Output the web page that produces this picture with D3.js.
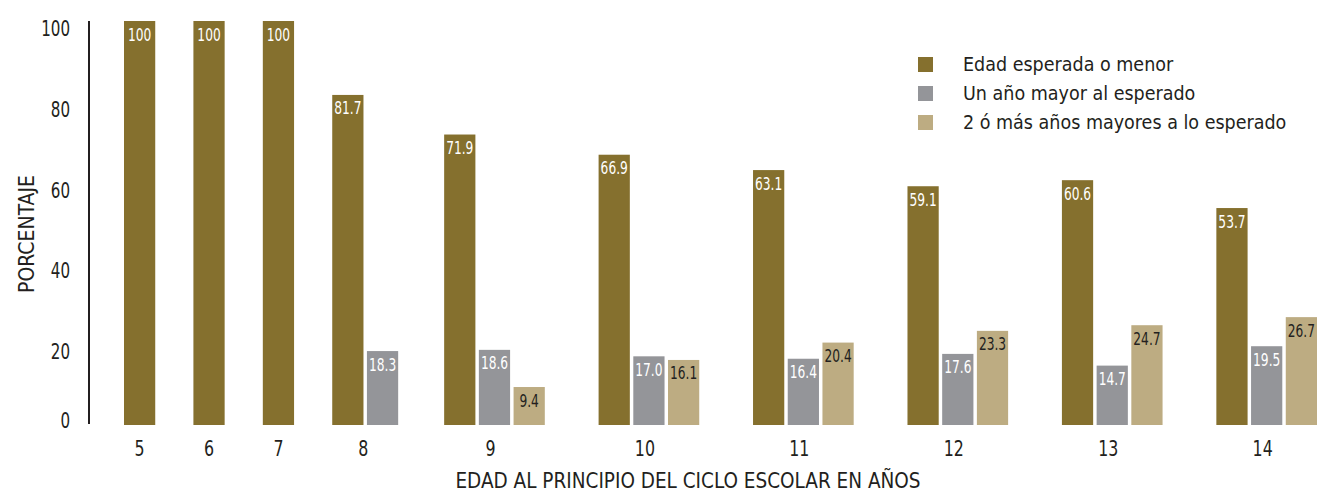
<!DOCTYPE html>
<html>
<head>
<meta charset="utf-8">
<script src="https://cdn.jsdelivr.net/npm/d3@7"></script>
<style>
  html, body { margin: 0; padding: 0; background: #fff; }
  svg { display: block; }
  text { font-family: "Liberation Sans Narrow", "DejaVu Sans Condensed", "Liberation Sans", sans-serif; }
</style>
</head>
<body>
<svg id="chart" width="1321" height="497"></svg>
<script>
const categories = ["5", "6", "7", "8", "9", "10", "11", "12", "13", "14"];
const seriesNames = ["Edad esperada o menor", "Un año mayor al esperado", "2 ó más años mayores a lo esperado"];
const esperada = [100, 100, 100, 81.7, 71.9, 66.9, 63.1, 59.1, 60.6, 53.7];
const unAnio   = [null, null, null, 18.3, 18.6, 17.0, 16.4, 17.6, 14.7, 19.5];
const dosOMas  = [null, null, null, null, 9.4, 16.1, 20.4, 23.3, 24.7, 26.7];
const yTicks = [0, 20, 40, 60, 80, 100];
const yTitle = "PORCENTAJE";
const xTitle = "EDAD AL PRINCIPIO DEL CICLO ESCOLAR EN AÑOS";

const colors = ["#85702e", "#949599", "#bdac82"];
const labelColors = ["#ffffff", "#ffffff", "#231f20"];
const series = [esperada, unAnio, dosOMas];
const narrow = 0.8; // horizontal condensing for numerals

const svg = d3.select("#chart");

// Group layout in "slot units": each group takes its bars + a gap
const barW = 0.9;
let cursor = 0;
const groups = categories.map((c, i) => {
  const vals = series.map((s, k) => ({ k, v: s[i] })).filter(d => d.v != null);
  const n = vals.length;
  const g = { cat: c, start: cursor, n, bars: vals.map((d, j) => ({ cat: c, k: d.k, v: d.v, u: cursor + j })) };
  cursor += n + 1 + 0.225 * (n - 1);
  return g;
});
const last = groups[groups.length - 1];
const endUnits = last.start + last.n - 1 + barW;

const x = d3.scaleLinear().domain([0, endUnits]).range([124, 1317]);
const y = d3.scaleLinear().domain([0, 100]).range([425, 21]);

// Y axis line
svg.append("line")
  .attr("x1", 89).attr("x2", 89)
  .attr("y1", y(100)).attr("y2", y(0) - 1)
  .attr("stroke", "#231f20").attr("stroke-width", 2);

// Y tick labels (axis generator, then condensed)
const yAxis = svg.append("g").attr("transform", "translate(70,0)")
  .call(d3.axisLeft(y).tickValues(yTicks).tickSize(0).tickPadding(0));
yAxis.select(".domain").remove();
yAxis.selectAll(".tick text")
  .attr("x", 0)
  .attr("dy", null)
  .attr("y", d => d === 0 ? 2 : 14.5)
  .attr("transform", `scale(${narrow},1)`)
  .attr("font-size", 21)
  .attr("fill", "#231f20")
  .style("font-family", '"Liberation Sans Narrow", "DejaVu Sans Condensed", sans-serif');

// Bars
const allBars = groups.flatMap(g => g.bars);
svg.append("g").selectAll("rect").data(allBars).join("rect")
  .attr("x", d => x(d.u))
  .attr("width", d => x(d.u + barW) - x(d.u))
  .attr("y", d => y(d.v))
  .attr("height", d => y(0) - y(d.v))
  .attr("fill", d => colors[d.k]);

// Value labels
const fmt = v => v === 100 ? "100" : d3.format(".1f")(v);
svg.append("g").selectAll("text").data(allBars).join("text")
  .attr("transform", d => `translate(${x(d.u + barW / 2)},${y(d.v) + 19.5}) scale(${narrow},1)`)
  .attr("text-anchor", "middle")
  .attr("font-size", 17)
  .attr("fill", d => labelColors[d.k])
  .text(d => fmt(d.v));

// X tick labels
svg.append("g").selectAll("text").data(groups).join("text")
  .attr("transform", g => {
    const cx = (x(g.start) + x(g.start + g.n - 1 + barW)) / 2 - (g.n === 3 ? 4 : (g.n === 2 ? 2 : 0));
    return `translate(${cx},456) scale(${narrow},1)`;
  })
  .attr("text-anchor", "middle")
  .attr("font-size", 22)
  .attr("fill", "#231f20")
  .text(g => g.cat);

// Axis titles
svg.append("text")
  .attr("x", 688).attr("y", 488)
  .attr("text-anchor", "middle")
  .attr("font-size", 20.5)
  .attr("fill", "#231f20")
  .text(xTitle);

svg.append("text")
  .attr("transform", "translate(34,234) rotate(-90)")
  .attr("text-anchor", "middle")
  .attr("font-size", 21)
  .attr("fill", "#231f20")
  .text(yTitle);

// Legend
const legend = svg.append("g").attr("transform", "translate(918,57)");
const li = legend.selectAll("g").data(seriesNames).join("g")
  .attr("transform", (d, i) => `translate(0,${i * 29})`);
li.append("rect").attr("width", 15).attr("height", 15).attr("fill", (d, i) => colors[i]);
li.append("text")
  .attr("x", 45).attr("y", 13.5)
  .attr("font-size", 19.5)
  .attr("fill", "#231f20")
  .text(d => d);
</script>
</body>
</html>
